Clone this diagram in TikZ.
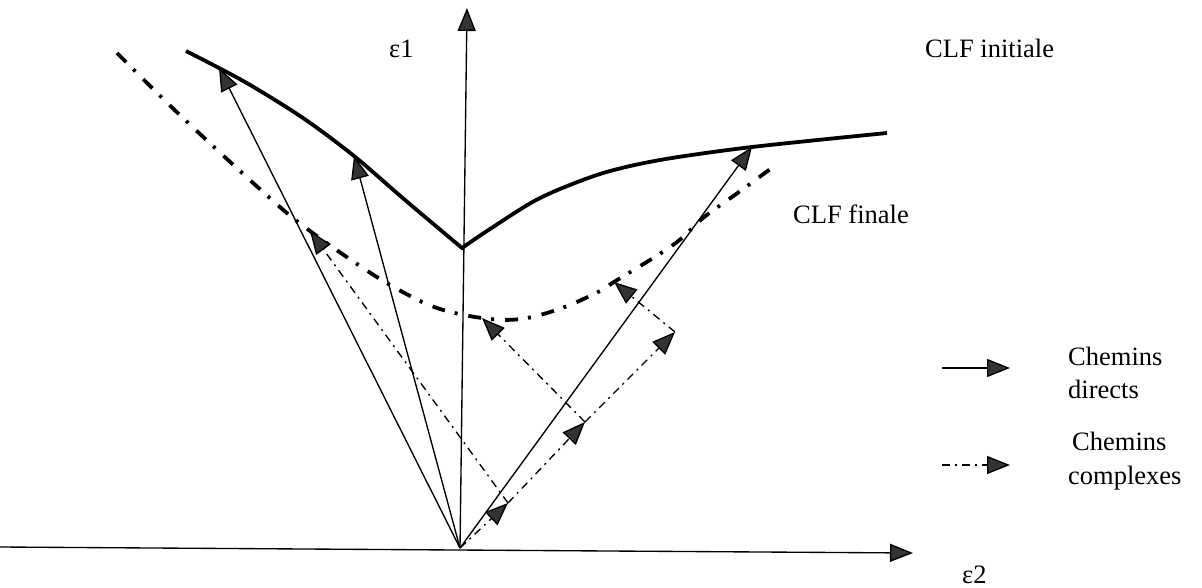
\documentclass[tikz,border=0pt]{standalone}
\usepackage{fontspec}
\setmainfont{Liberation Serif}
\usetikzlibrary{arrows.meta}
\begin{document}
\begin{tikzpicture}[x=1pt,y=-1pt,
  thinline/.style={line width=1.35pt},
  tipped/.style={-{Triangle[length=23pt,width=18pt,fill=black!80]}},
  dd/.style={thinline,dash pattern=on 8pt off 5pt on 2pt off 5pt},
  bigline/.style={line width=3.8pt,line join=miter},
  bigdd/.style={line width=3.8pt,dash pattern=on 13pt off 10pt on 3pt off 11pt},
  lbl/.style={font=\fontsize{26.5}{30}\selectfont,inner sep=0pt,anchor=base west},
]
\useasboundingbox (0,0) rectangle (1202,588);
% key points
\coordinate (O) at (460,548);
\coordinate (XL) at (0,547);
\coordinate (XR) at (913,553);
\coordinate (YT) at (467,8);
\coordinate (V) at (462,248);
\coordinate (A1) at (219,68);
\coordinate (A2) at (354,156);
\coordinate (A3) at (752,147);
\coordinate (P1) at (508,503);
\coordinate (P2) at (585,422);
\coordinate (P3) at (675,332);
\coordinate (T1) at (310,231);
\coordinate (T2) at (482,318);
\coordinate (T3) at (614,282);
% axes
\draw[thinline,tipped] (XL) -- (XR);
\draw[thinline,tipped] (O) -- (YT);
% CLF initiale (solid thick)
\draw[bigline] plot[smooth,tension=0.5] coordinates {(186,51) (245,82) (303,118) (354,156) (405,200) (V)}
  -- plot[smooth,tension=0.5] coordinates {(V) (490,229) (540,198) (600,174) (660,160) (A3) (887,133)};
% CLF finale (dash-dot thick)
\draw[bigdd] plot[smooth,tension=0.6] coordinates {(117,53) (183,118) (272,200) (T1) (363,268) (399,290) (437,308) (T2) (521,319) (562,308) (600,291) (T3) (673,245) (703,218) (739,192) (773,167)};
% direct paths
\draw[thinline,tipped] (O) -- (A1);
\draw[thinline,tipped] (O) -- (A2);
\draw[thinline,tipped] (O) -- (A3);
% complex paths
\draw[dd,tipped] (O) -- (P1);
\draw[dd,tipped] (P1) -- (P2);
\draw[dd,tipped] (P2) -- (P3);
\draw[dd,tipped] (P1) -- (T1);
\draw[dd,tipped] (P2) -- (T2);
\draw[dd,tipped] (P3) -- (T3);
% labels
\node[lbl] (e1) at (389,58) {ε1};
\node[lbl] (e2) at (962,583) {ε2};
\node[lbl] (clfi) at (925,58) {CLF initiale};
\node[lbl] (clff) at (793,223) {CLF finale};
% legend
\coordinate (L1a) at (942,368);
\coordinate (L1b) at (1010,368);
\coordinate (L2a) at (942,465);
\coordinate (L2b) at (1010,465);
\draw[thinline,tipped] (L1a) -- (L1b);
\draw[dd,tipped] (L2a) -- (L2b);
\node[lbl] (cd1) at (1068,365) {Chemins};
\node[lbl] (cd2) at (1068,398) {directs};
\node[lbl] (cc1) at (1072,450) {Chemins};
\node[lbl] (cc2) at (1068,484) {complexes};
\end{tikzpicture}
\end{document}
